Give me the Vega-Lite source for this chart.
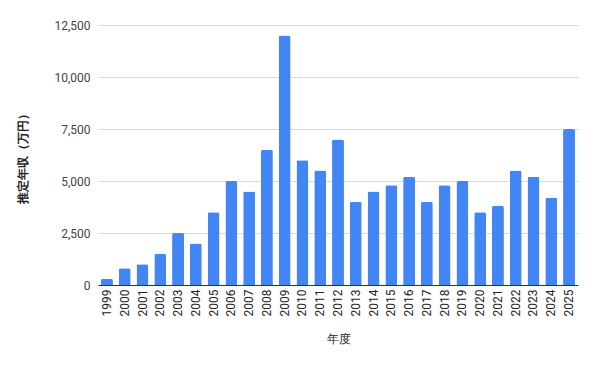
{
  "$schema": "https://vega.github.io/schema/vega-lite/v6.json",
  "autosize": "none",
  "width": 480,
  "height": 260,
  "padding": {"left": 98, "top": 25, "right": 22, "bottom": 85},
  "background": "white",
  "config": {"view": {"stroke": null}, "font": "Roboto"},
  "data": {"values": [
    {"year": "1999", "value": 300},
    {"year": "2000", "value": 800},
    {"year": "2001", "value": 1000},
    {"year": "2002", "value": 1500},
    {"year": "2003", "value": 2500},
    {"year": "2004", "value": 2000},
    {"year": "2005", "value": 3500},
    {"year": "2006", "value": 5000},
    {"year": "2007", "value": 4500},
    {"year": "2008", "value": 6500},
    {"year": "2009", "value": 12000},
    {"year": "2010", "value": 6000},
    {"year": "2011", "value": 5500},
    {"year": "2012", "value": 7000},
    {"year": "2013", "value": 4000},
    {"year": "2014", "value": 4500},
    {"year": "2015", "value": 4800},
    {"year": "2016", "value": 5200},
    {"year": "2017", "value": 4000},
    {"year": "2018", "value": 4800},
    {"year": "2019", "value": 5000},
    {"year": "2020", "value": 3500},
    {"year": "2021", "value": 3800},
    {"year": "2022", "value": 5500},
    {"year": "2023", "value": 5200},
    {"year": "2024", "value": 4200},
    {"year": "2025", "value": 7500}
  ]},
  "mark": {"type": "bar", "color": "#4285F4", "cornerRadiusTopLeft": 2, "cornerRadiusTopRight": 2},
  "encoding": {
    "x": {
      "field": "year", "type": "ordinal", "title": "年度",
      "scale": {"paddingInner": 0.33, "paddingOuter": 0.17},
      "axis": {"labelAngle": -90, "labelAlign": "right", "labelBaseline": "middle", "labelFontSize": 12, "labelColor": "#222", "labelPadding": 4, "ticks": false, "domainColor": "#333", "titleFontSize": 12, "titleFontWeight": "normal", "titleColor": "#222", "titlePadding": 18}
    },
    "y": {
      "field": "value", "type": "quantitative", "title": "推定年収（万円）",
      "scale": {"domain": [0, 12500]},
      "axis": {"values": [0, 2500, 5000, 7500, 10000, 12500], "format": ",d", "domain": false, "ticks": false, "gridColor": "#d9d9d9", "labelFontSize": 12, "labelColor": "#444", "labelPadding": 8, "titleFontSize": 12, "titleFontWeight": "bold", "titleColor": "#222", "titlePadding": 24}
    }
  }
}
